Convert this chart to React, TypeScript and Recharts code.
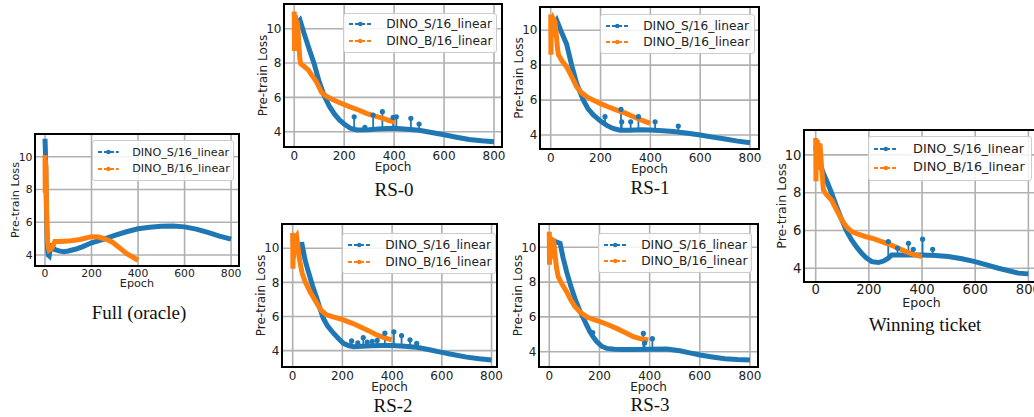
import React from "react";
import { CartesianGrid, Legend, Line, LineChart, XAxis, YAxis } from "recharts";

type Pt = [number, number];
type Spike = [number, number, number]; // epoch, curve value, spike tip

const SERIES = ["DINO_S/16_linear", "DINO_B/16_linear"];
const COLORS = ["#1f77b4", "#ff7f0e"];
const X_TICKS = [0, 200, 400, 600, 800];
const Y_TICKS = [4, 6, 8, 10];
const CAPTIONS = ["Full (oracle)", "RS-0", "RS-1", "RS-2", "RS-3", "Winning ticket"];

// ---- Full (oracle)
const fullS: Pt[] = [
  [0, 11.1], [2, 10.2], [4, 8.5], [6, 7.0], [8, 5.6], [10, 4.6], [14, 4.0], [18, 3.95], [22, 4.3],
  [26, 4.7], [30, 4.55], [40, 4.35], [60, 4.25], [80, 4.2], [100, 4.25], [130, 4.35], [160, 4.5],
  [200, 4.75], [250, 4.95], [300, 5.2], [350, 5.42], [400, 5.6], [450, 5.7], [500, 5.76], [550, 5.77],
  [600, 5.72], [650, 5.58], [700, 5.38], [750, 5.15], [800, 4.97],
];
const fullB: Pt[] = [
  [0, 10.1], [1, 7.8], [2, 9.8], [3, 8.5], [4, 9.5], [6, 7.5], [8, 6.0], [10, 5.0], [14, 4.5], [18, 4.3],
  [24, 4.35], [30, 4.45], [36, 4.6], [42, 4.82], [60, 4.82], [100, 4.85], [150, 4.95], [200, 5.12],
  [230, 5.1], [260, 4.98], [290, 4.78], [320, 4.45], [350, 4.1], [380, 3.85], [400, 3.68],
];

// ---- RS-0
const rs0S: Pt[] = [
  [0, 10.4], [10, 10.3], [23, 10.5], [40, 9.7], [60, 8.8], [80, 7.95], [100, 6.9], [120, 6.1],
  [140, 5.5], [160, 5.05], [180, 4.7], [200, 4.45], [225, 4.2], [250, 4.1], [300, 4.12], [350, 4.18],
  [400, 4.2], [450, 4.15], [500, 4.08], [550, 3.95], [600, 3.82], [650, 3.68], [700, 3.55],
  [750, 3.47], [800, 3.42],
];
const rs0Spikes: Spike[] = [
  [240, 4.1, 4.87], [283, 4.12, 4.25], [316, 4.15, 4.97], [353, 4.18, 5.17], [396, 4.2, 4.83],
  [409, 4.2, 4.87], [467, 4.12, 4.78], [500, 4.08, 4.45],
];
const rs0B: Pt[] = [
  [0, 11.0], [1, 8.7], [2, 10.6], [3, 9.3], [5, 10.8], [7, 9.8], [10, 10.5], [14, 10.2], [18, 9.2],
  [22, 8.3], [26, 7.95], [40, 7.8], [56, 7.6], [70, 7.3], [89, 6.9], [109, 6.3], [125, 6.1], [143, 5.95],
  [180, 5.7], [223, 5.45], [260, 5.25], [289, 5.07], [320, 4.92], [356, 4.78], [380, 4.65], [403, 4.58],
];

// ---- RS-1
const rs1S: Pt[] = [
  [0, 10.5], [12, 10.3], [24, 10.57], [40, 10.0], [64, 9.2], [84, 8.0], [104, 6.95], [131, 6.0],
  [150, 5.5], [171, 5.15], [200, 4.8], [225, 4.55], [250, 4.38], [278, 4.28], [320, 4.27], [360, 4.3],
  [400, 4.29], [450, 4.25], [492, 4.2], [550, 4.1], [600, 4.0], [650, 3.88], [700, 3.77], [750, 3.65],
  [800, 3.56],
];
const rs1Spikes: Spike[] = [
  [218, 4.62, 5.05], [282, 4.28, 5.47], [285, 4.28, 4.75], [321, 4.27, 4.76], [352, 4.3, 5.05],
  [419, 4.28, 4.76], [512, 4.18, 4.51],
];
const rs1B: Pt[] = [
  [0, 10.9], [1, 8.6], [2, 10.4], [4, 9.6], [6, 10.7], [9, 9.9], [13, 10.6], [17, 10.5], [22, 9.8],
  [27, 9.0], [31, 8.6], [45, 8.25], [64, 7.9], [84, 7.35], [104, 6.76], [125, 6.4], [144, 6.2],
  [170, 6.0], [198, 5.81], [230, 5.62], [265, 5.43], [300, 5.25], [332, 5.05], [365, 4.85], [399, 4.67],
];

// ---- RS-2
const rs2S: Pt[] = [
  [0, 10.5], [8, 10.1], [16, 10.3], [24, 9.9], [30, 9.6], [36, 10.35], [42, 9.9], [50, 9.3], [63, 8.63],
  [80, 7.8], [97, 7.07], [110, 6.45], [123, 5.9], [140, 5.45], [164, 5.02], [185, 4.7], [204, 4.43],
  [225, 4.3], [244, 4.23], [280, 4.25], [320, 4.28], [365, 4.3], [400, 4.3], [450, 4.25], [499, 4.2],
  [550, 4.05], [600, 3.9], [633, 3.8], [700, 3.62], [750, 3.52], [800, 3.45],
];
const rs2Spikes: Spike[] = [
  [237, 4.23, 4.57], [262, 4.24, 4.45], [284, 4.25, 4.76], [300, 4.26, 4.5], [320, 4.28, 4.55],
  [340, 4.29, 4.6], [371, 4.3, 5.02], [407, 4.3, 5.1], [438, 4.26, 4.88], [472, 4.23, 4.63],
  [499, 4.2, 4.43],
];
const rs2B: Pt[] = [
  [0, 10.9], [1, 8.8], [2, 10.5], [4, 9.4], [6, 10.7], [9, 10.0], [13, 10.6], [16, 10.68], [22, 10.0],
  [29, 9.2], [38, 8.55], [50, 8.05], [70, 7.45], [97, 6.78], [115, 6.35], [137, 6.09], [170, 5.95],
  [204, 5.8], [240, 5.6], [271, 5.4], [305, 5.17], [338, 4.92], [370, 4.75], [398, 4.63],
];

// ---- RS-3
const rs3S: Pt[] = [
  [0, 10.6], [10, 10.2], [20, 10.35], [30, 10.3], [43, 10.23], [55, 9.4], [69, 8.6], [85, 7.8],
  [102, 7.07], [120, 6.4], [136, 5.92], [150, 5.5], [162, 5.15], [175, 4.85], [189, 4.58], [210, 4.3],
  [229, 4.19], [260, 4.14], [300, 4.12], [335, 4.13], [400, 4.14], [468, 4.15], [520, 4.05],
  [560, 3.93], [601, 3.81], [650, 3.7], [700, 3.6], [750, 3.55], [800, 3.52],
];
const rs3Spikes: Spike[] = [[173, 4.9, 5.1], [375, 4.13, 5.05], [380, 4.13, 4.5], [411, 4.14, 4.75]];
const rs3B: Pt[] = [
  [0, 10.9], [1, 9.0], [2, 10.4], [4, 9.3], [6, 10.6], [10, 10.0], [16, 10.5], [22, 9.7], [29, 8.8],
  [36, 8.3], [50, 7.9], [69, 7.45], [85, 7.0], [102, 6.6], [125, 6.25], [149, 6.0], [175, 5.85],
  [202, 5.73], [235, 5.55], [268, 5.34], [300, 5.12], [335, 4.86], [365, 4.74], [395, 4.67],
];

// ---- Winning ticket
const wtS: Pt[] = [
  [0, 10.5], [5, 9.9], [10, 10.2], [16, 9.5], [29, 9.03], [45, 8.5], [60, 7.97], [80, 7.2], [98, 6.56],
  [115, 6.0], [135, 5.5], [155, 5.1], [173, 4.79], [190, 4.55], [211, 4.35], [236, 4.3], [255, 4.38],
  [273, 4.53], [286, 4.7], [311, 4.7], [350, 4.7], [398, 4.7], [450, 4.67], [499, 4.62], [550, 4.5],
  [599, 4.35], [650, 4.15], [687, 4.0], [730, 3.85], [762, 3.74], [800, 3.7],
];
const wtSpikes: Spike[] = [
  [273, 4.53, 5.41], [308, 4.7, 5.06], [349, 4.7, 5.32], [367, 4.7, 5.0], [402, 4.7, 5.54],
  [440, 4.68, 5.0],
];
const wtB: Pt[] = [
  [0, 10.9], [1, 8.6], [2, 10.5], [4, 9.2], [6, 10.8], [9, 9.8], [13, 10.5], [16, 10.6], [22, 9.4],
  [29, 8.15], [40, 7.9], [60, 7.6], [80, 7.05], [98, 6.56], [115, 6.2], [135, 5.94], [160, 5.8],
  [186, 5.68], [220, 5.55], [248, 5.41], [280, 5.25], [311, 5.06], [340, 4.88], [370, 4.72], [399, 4.62],
];

const FONT = "'DejaVu Sans', Verdana, sans-serif";
const SERIF = "'Liberation Serif', 'Times New Roman', serif";
const YW = 40; // room left of the frame for y ticks + label
const XH = 34; // room under the frame for x ticks + label
const PAD_R = 16; // room right of the frame so the last x tick isn't clipped

interface Box { l: number; t: number; w: number; h: number }
interface Type { tick: number; label: number; legend: number; xPad: number; xLab: number; yLab: number }
interface PanelSpec {
  caption: string;
  s: Pt[];
  spikes: Spike[];
  b: Pt[];
  frame: Box;
  xDom: [number, number];
  yDom: [number, number];
  legend: Box;
  type: Type;
  cap: [number, number];
}

const SMALL: Type = { tick: 10.8, label: 11.2, legend: 11.2, xPad: 3, xLab: 21, yLab: 15.7 };
const MID: Type = { tick: 12, label: 12, legend: 12.2, xPad: 4.6, xLab: 24, yLab: 17 };
const BIG: Type = { tick: 13.2, label: 12.6, legend: 12.8, xPad: 2.5, xLab: 24.5, yLab: 18.3 };

const PANELS: PanelSpec[] = [
  { caption: CAPTIONS[0], s: fullS, spikes: [], b: fullB, frame: { l: 35, t: 134, w: 204, h: 132 },
    xDom: [-43, 834], yDom: [3.33, 11.39], legend: { l: 92, t: 140, w: 142, h: 41 }, type: SMALL, cap: [139, 313] },
  { caption: CAPTIONS[1], s: rs0S, spikes: rs0Spikes, b: rs0B, frame: { l: 284, t: 4, w: 218, h: 143 },
    xDom: [-41, 832], yDom: [3.11, 11.44], legend: { l: 343, t: 12.7, w: 154, h: 40 }, type: MID, cap: [394, 190] },
  { caption: CAPTIONS[2], s: rs1S, spikes: rs1Spikes, b: rs1B, frame: { l: 540, t: 7, w: 219, h: 142 },
    xDom: [-43, 836], yDom: [3.2, 11.33], legend: { l: 600, t: 14, w: 155, h: 40 }, type: MID, cap: [650, 188] },
  { caption: CAPTIONS[3], s: rs2S, spikes: rs2Spikes, b: rs2B, frame: { l: 282, t: 224, w: 215, h: 143 },
    xDom: [-43, 822], yDom: [3.04, 11.42], legend: { l: 342, t: 233, w: 154, h: 41 }, type: MID, cap: [393, 406] },
  { caption: CAPTIONS[4], s: rs3S, spikes: rs3Spikes, b: rs3B, frame: { l: 539, t: 224, w: 219, h: 143 },
    xDom: [-41, 832], yDom: [3.12, 11.34], legend: { l: 598, t: 233, w: 154, h: 40 }, type: MID, cap: [650, 405] },
  { caption: CAPTIONS[5], s: wtS, spikes: wtSpikes, b: wtB, frame: { l: 804, t: 130, w: 235, h: 152 },
    xDom: [-44, 840], yDom: [3.27, 11.32], legend: { l: 868, t: 136, w: 164, h: 45 }, type: BIG, cap: [925, 325] },
];

const rows = (pts: Pt[]) => pts.map(([x, y]) => ({ x, y }));
const spikeRows = (sp: Spike[]) =>
  sp.flatMap(([x, base, tip]) => [{ x, y: base }, { x, y: tip }, { x, y: null as number | null }]);

function LegendBox({ fs, w, h }: { fs: number; w: number; h: number }) {
  const sw = fs * 1.85;
  return (
    <div
      style={{
        boxSizing: "border-box", width: w, height: h, border: "1px solid #cccccc", borderRadius: 3,
        background: "rgba(255,255,255,0.85)", display: "flex", flexDirection: "column",
        justifyContent: "space-evenly", paddingLeft: 5, fontFamily: FONT, fontSize: fs, color: "#222",
        whiteSpace: "nowrap", overflow: "hidden",
      }}
    >
      {SERIES.map((name, i) => (
        <div key={name} style={{ display: "flex", alignItems: "center", lineHeight: 1 }}>
          <svg width={sw} height={8} style={{ marginRight: fs * 1.2, flex: "none" }}>
            <line x1={0} y1={4} x2={sw} y2={4} stroke={COLORS[i]} strokeWidth={2} strokeDasharray="4 2" />
            <circle cx={sw / 2} cy={4} r={2.2} fill={COLORS[i]} />
          </svg>
          <span>{name}</span>
        </div>
      ))}
    </div>
  );
}

function Panel({ p }: { p: PanelSpec }) {
  const { frame, legend, type } = p;
  const left = frame.l - YW;
  const yLabel = (props: any) => {
    const vb = props?.viewBox;
    if (!vb) return null;
    const cx = vb.x + vb.width - type.yLab;
    const cy = vb.y + vb.height / 2;
    return (
      <text x={cx} y={cy} transform={`rotate(-90 ${cx} ${cy})`} textAnchor="middle"
        fontSize={type.label} fill="#222" fontFamily={FONT}>
        Pre-train Loss
      </text>
    );
  };
  const xLabel = (props: any) => {
    const vb = props?.viewBox;
    if (!vb) return null;
    return (
      <text x={vb.x + vb.width / 2} y={vb.y + type.xLab} textAnchor="middle"
        fontSize={type.label} fill="#222" fontFamily={FONT}>
        Epoch
      </text>
    );
  };
  const tipDot = (color: string) => (d: any) =>
    d.index % 3 === 1 && d.cy != null ? (
      <circle key={`t${d.index}`} cx={d.cx} cy={d.cy} r={2.6} fill={color} />
    ) : (
      <g key={`t${d.index}`} />
    );

  return (
    <>
      <div style={{ position: "absolute", left, top: frame.t }}>
        <LineChart width={frame.w + YW + PAD_R} height={frame.h + XH}
          margin={{ top: 0, right: PAD_R, bottom: 0, left: 0 }}>
          <CartesianGrid stroke="#b0b0b0" strokeWidth={1.6} />
          <XAxis type="number" dataKey="x" domain={p.xDom} ticks={X_TICKS} allowDataOverflow height={XH}
            axisLine={false} tickLine={false} tickSize={2} tickMargin={type.xPad - 2}
            tick={{ fontSize: type.tick, fill: "#222", fontFamily: FONT }} label={xLabel} />
          <YAxis type="number" domain={p.yDom} ticks={Y_TICKS} allowDataOverflow width={YW}
            axisLine={false} tickLine={false} tickSize={1} tickMargin={1.5}
            tick={{ fontSize: type.tick, fill: "#222", fontFamily: FONT }} label={yLabel} />
          <Legend layout="horizontal" verticalAlign="middle" align="center"
            wrapperStyle={{ left: legend.l - left, top: legend.t - frame.t, width: "auto", height: "auto" }}
            content={() => <LegendBox fs={type.legend} w={legend.w} h={legend.h} />} />
          <Line data={rows(p.s)} dataKey="y" name={SERIES[0]} type="linear" stroke={COLORS[0]}
            strokeWidth={5} dot={false} isAnimationActive={false} />
          <Line data={spikeRows(p.spikes)} dataKey="y" name="spikes" legendType="none" type="linear"
            stroke={COLORS[0]} strokeWidth={1.8} dot={tipDot(COLORS[0])} activeDot={false}
            isAnimationActive={false} />
          <Line data={rows(p.b)} dataKey="y" name={SERIES[1]} type="linear" stroke={COLORS[1]}
            strokeWidth={5} dot={false} isAnimationActive={false} />
        </LineChart>
      </div>
      <div
        style={{
          position: "absolute", boxSizing: "border-box", left: frame.l - 1.25, top: frame.t - 1.25,
          width: frame.w + 2.5, height: frame.h + 2.5, border: "2.5px solid #000", pointerEvents: "none",
        }}
      />
      <div
        style={{
          position: "absolute", left: p.cap[0] - 100, top: p.cap[1] - 12, width: 200, textAlign: "center",
          fontFamily: SERIF, fontSize: 19, lineHeight: "24px", color: "#111",
        }}
      >
        {p.caption}
      </div>
    </>
  );
}

export default function App() {
  return (
    <div style={{ position: "absolute", left: 0, top: 0, width: 1034, height: 417, overflow: "hidden", background: "#fff" }}>
      {PANELS.map((p) => (
        <Panel key={p.caption} p={p} />
      ))}
    </div>
  );
}
